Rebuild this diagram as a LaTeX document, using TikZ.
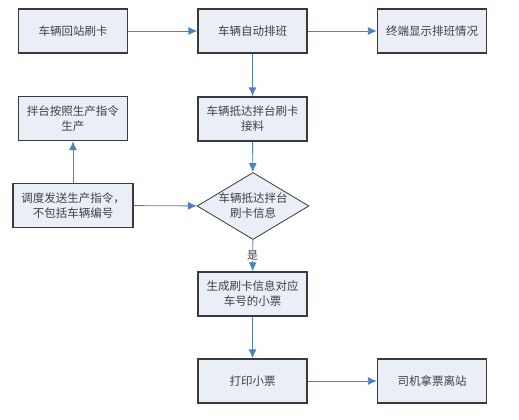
\documentclass[tikz,border=0pt]{standalone}
\usepackage{fontspec}
\newfontfamily\cjk{Noto Sans CJK SC}
\usetikzlibrary{shapes.geometric,arrows.meta}
\definecolor{boxfill}{HTML}{E9EEF7}
\definecolor{boxline}{HTML}{3A3A3A}
\definecolor{flowblue}{HTML}{4F81BD}
\tikzset{
	stepbox/.style={draw=boxline,line width=1.4pt,fill=boxfill,minimum width=109pt,minimum height=44pt,
		inner sep=2pt,align=center,text=black!75,font=\cjk\fontsize{11.5}{15}\selectfont},
	decision/.style={diamond,draw=boxline,line width=0.8pt,fill=boxfill,minimum width=110pt,minimum height=66pt,
		inner sep=0pt,aspect=1.67,align=center,text=black!75,font=\cjk\fontsize{11.5}{15}\selectfont},
	flow/.style={-{Latex[length=9pt,width=8pt]},draw=flowblue,line width=0.9pt}
}
\begin{document}
\begin{tikzpicture}[x=1pt,y=-1pt]
	\useasboundingbox (0,0) rectangle (519,420);

	\node[stepbox] (back) at (73,31){车辆回站刷卡};
	\node[stepbox] (sched) at (252.5,31){车辆自动排班};
	\node[stepbox] (show) at (432,31){终端显示排班情况};
	\node[stepbox] (mix) at (73,118.5){拌台按照生产指令\\生产};
	\node[stepbox] (arrive) at (252.5,119){车辆抵达拌台刷卡\\接料};
	\node[stepbox,minimum width=120pt] (order) at (73,205.5){调度发送生产指令，\\不包括车辆编号};
	\node[decision] (check) at (253,206){车辆抵达拌台\\刷卡信息};
	\node[stepbox] (ticket) at (252.5,294){生成刷卡信息对应\\车号的小票};
	\node[stepbox] (print) at (252.5,381){打印小票};
	\node[stepbox] (leave) at (432,381){司机拿票离站};

	\draw[flow] (back) -- (sched);
	\draw[flow] (sched) -- (show);
	\draw[flow] (sched) -- (arrive);
	\draw[flow] (arrive) -- (check);
	\draw[flow] (order) -- (mix);
	\draw[flow] (order) -- (check);
	\draw[flow] (check) -- node[fill=white,inner sep=1pt,text=black!75,font=\cjk\fontsize{11}{13}\selectfont]{是} (ticket);
	\draw[flow] (ticket) -- (print);
	\draw[flow] (print) -- (leave);
\end{tikzpicture}
\end{document}
